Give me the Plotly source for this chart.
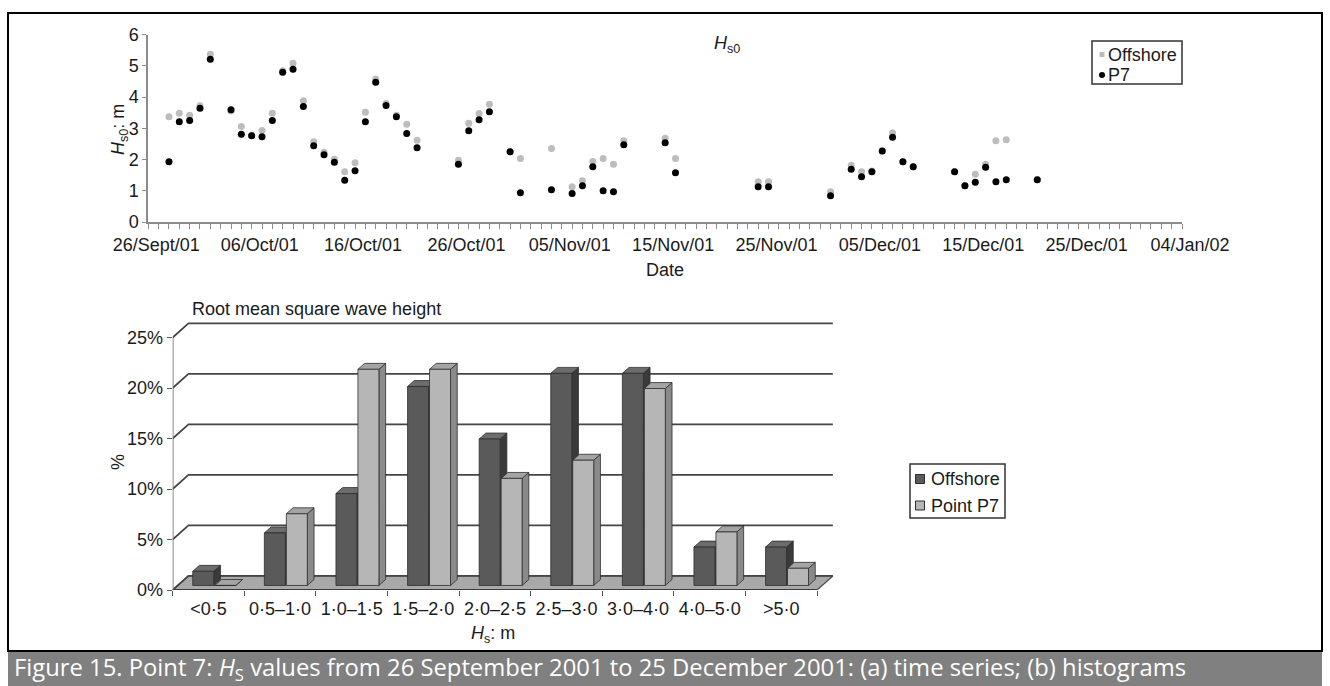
import plotly.graph_objects as go

W, H = 1330, 686

# ---------------- data: (a) time series ----------------
obs_dates = [
    "2001-09-28", "2001-09-29", "2001-09-30", "2001-10-01", "2001-10-02",
    "2001-10-04", "2001-10-05", "2001-10-06", "2001-10-07", "2001-10-08", "2001-10-09", "2001-10-10",
    "2001-10-11", "2001-10-12", "2001-10-13", "2001-10-14", "2001-10-15", "2001-10-16", "2001-10-17",
    "2001-10-18", "2001-10-19", "2001-10-20", "2001-10-21", "2001-10-22",
    "2001-10-26", "2001-10-27", "2001-10-28", "2001-10-29", "2001-10-31", "2001-11-01",
    "2001-11-04", "2001-11-06", "2001-11-07", "2001-11-08", "2001-11-09", "2001-11-10", "2001-11-11",
    "2001-11-15", "2001-11-16", "2001-11-24", "2001-11-25",
    "2001-12-01", "2001-12-03", "2001-12-04", "2001-12-05", "2001-12-06", "2001-12-07", "2001-12-08", "2001-12-09",
    "2001-12-13", "2001-12-14", "2001-12-15", "2001-12-16", "2001-12-17", "2001-12-18", "2001-12-21",
]
offshore_hs = [
    3.37, 3.48, 3.42, 3.72, 5.37,
    3.55, 3.06, 2.78, 2.93, 3.48, 4.84, 5.08,
    3.88, 2.57, 2.23, 2.01, 1.61, 1.90, 3.51,
    4.58, 3.79, 3.42, 3.13, 2.62,
    1.98, 3.16, 3.47, 3.77, 2.25, 2.03,
    2.35, 1.13, 1.32, 1.94, 2.03, 1.85, 2.60,
    2.68, 2.03, 1.29, 1.29,
    0.97, 1.82, 1.61, 1.63, 2.27, 2.86, 1.93, 1.77,
    1.61, 1.16, 1.53, 1.85, 2.60, 2.63, 1.35,
]
p7_hs = [
    1.93, 3.21, 3.25, 3.64, 5.21,
    3.59, 2.81, 2.76, 2.73, 3.25, 4.79, 4.89,
    3.70, 2.44, 2.15, 1.91, 1.34, 1.64, 3.21,
    4.47, 3.73, 3.37, 2.83, 2.38,
    1.85, 2.92, 3.27, 3.53, 2.25, 0.94,
    1.03, 0.91, 1.16, 1.77, 1.00, 0.97, 2.47,
    2.54, 1.58, 1.13, 1.13,
    0.84, 1.69, 1.45, 1.61, 2.27, 2.71, 1.93, 1.77,
    1.61, 1.16, 1.27, 1.75, 1.29, 1.35, 1.35,
]
date_tick_vals = ["2001-09-26", "2001-10-06", "2001-10-16", "2001-10-26", "2001-11-05", "2001-11-15",
                  "2001-11-25", "2001-12-05", "2001-12-15", "2001-12-25", "2002-01-04"]
date_tick_text = ["26/Sept/01", "06/Oct/01", "16/Oct/01", "26/Oct/01", "05/Nov/01", "15/Nov/01",
                  "25/Nov/01", "05/Dec/01", "15/Dec/01", "25/Dec/01", "04/Jan/02"]
date_range = ["2001-09-26", "2002-01-04"]
hs_ticks = [0, 1, 2, 3, 4, 5, 6]
ts_series = ["Offshore", "P7"]

# ---------------- data: (b) histograms ----------------
hs_bins = ["<0·5", "0·5–1·0", "1·0–1·5", "1·5–2·0", "2·0–2·5", "2·5–3·0", "3·0–4·0", "4·0–5·0", ">5·0"]
offshore_pct = [1.4, 5.2, 9.1, 19.7, 14.5, 21.0, 21.0, 3.8, 3.8]
p7_pct = [0.0, 7.1, 21.4, 21.4, 10.6, 12.4, 19.5, 5.3, 1.7]
pct_ticks = [0, 5, 10, 15, 20, 25]
hist_series = ["Offshore", "Point P7"]

# ---------------- layout geometry (pixels) ----------------
FONT = "Liberation Sans, Arial, sans-serif"
TXT = "#1a1a1a"
AX = "#8c8c8c"
GRAY_DOT = "#bdbdbd"


def px(x):
    return x / W


def py(y):
    return 1 - y / H


# top plot area
T_L, T_R, T_T, T_B = 148.3, 1182.0, 34.5, 222.0
# bottom plot area (front plane)
B_L, B_R, B_T, B_B = 172.7, 845.0, 300.0, 590.0
CAT_PX = 71.6      # px per category
PCT_PX = 10.1      # px per percent
n = len(hs_bins)
x_max = -0.5 + (B_R - B_L) / CAT_PX
y_max = (B_B - B_T) / PCT_PX

# pseudo-3D offsets (in data units)
DEPTH_X, DEPTH_Y = 0.22, 1.39     # full depth of floor / back wall
BX, BY = 0.08, 0.45               # plane in which bars stand
BW, GAP = 0.293, 0.007            # bar width, half gap
DDX, DDY = 0.094, 0.59            # bar depth

fig = go.Figure()

# ---- top: scatter ----
fig.add_trace(go.Scatter(x=obs_dates, y=offshore_hs, mode="markers", name=ts_series[0],
                         marker=dict(color=GRAY_DOT, size=7), xaxis="x", yaxis="y",
                         showlegend=False))
fig.add_trace(go.Scatter(x=obs_dates, y=p7_hs, mode="markers", name=ts_series[1],
                         marker=dict(color="#000000", size=7), xaxis="x", yaxis="y",
                         showlegend=False))

# ---- bottom: floor, walls ----
right = n - 0.5
floor_x = [-0.5, right, right + DEPTH_X, -0.5 + DEPTH_X, -0.5]
floor_y = [0, 0, DEPTH_Y, DEPTH_Y, 0]
fig.add_trace(go.Scatter(x=floor_x, y=floor_y, mode="lines", fill="toself",
                         fillcolor="#a9a9a9", line=dict(color="#4a4a4a", width=1.2),
                         xaxis="x2", yaxis="y2", showlegend=False, hoverinfo="skip"))
gx, gy = [], []
for t in pct_ticks:
    gx += [-0.5, -0.5 + DEPTH_X, right + DEPTH_X, None]
    gy += [t, t + DEPTH_Y, t + DEPTH_Y, None]
fig.add_trace(go.Scatter(x=gx, y=gy, mode="lines", line=dict(color="#454545", width=1.7),
                         xaxis="x2", yaxis="y2", showlegend=False, hoverinfo="skip"))
fig.add_trace(go.Scatter(x=[-0.5, -0.5], y=[0, pct_ticks[-1]], mode="lines",
                         line=dict(color="#6e6e6e", width=1.6),
                         xaxis="x2", yaxis="y2", showlegend=False, hoverinfo="skip"))
fig.add_trace(go.Scatter(x=[-0.5, right], y=[0, 0], mode="lines",
                         line=dict(color="#3c3c3c", width=2),
                         xaxis="x2", yaxis="y2", showlegend=False, hoverinfo="skip"))


def bar_faces(values, left_side):
    fx, fy, sx, sy, tx, ty = [], [], [], [], [], []
    for i, v in enumerate(values):
        if left_side:
            x0, x1 = i + BX - GAP - BW, i + BX - GAP
        else:
            x0, x1 = i + BX + GAP, i + BX + GAP + BW
        y0, y1 = BY, BY + v
        fx += [x0, x1, x1, x0, x0, None]
        fy += [y0, y0, y1, y1, y0, None]
        sx += [x1, x1 + DDX, x1 + DDX, x1, x1, None]
        sy += [y0, y0 + DDY, y1 + DDY, y1, y0, None]
        tx += [x0, x1, x1 + DDX, x0 + DDX, x0, None]
        ty += [y1, y1, y1 + DDY, y1 + DDY, y1, None]
    return (fx, fy), (sx, sy), (tx, ty)


BAR_COLORS = [("#5a5a5a", "#3a3a3a", "#6c6c6c"), ("#b6b6b6", "#8a8a8a", "#a4a4a4")]
for name, vals, left, (c_front, c_side, c_top) in zip(hist_series, [offshore_pct, p7_pct],
                                                      [True, False], BAR_COLORS):
    front, side, top = bar_faces(vals, left)
    for (xs, ys), col in ((side, c_side), (top, c_top), (front, c_front)):
        fig.add_trace(go.Scatter(x=xs, y=ys, mode="lines", fill="toself", fillcolor=col,
                                 line=dict(color="#2e2e2e", width=0.8), xaxis="x2", yaxis="y2",
                                 name=name, showlegend=False, hoverinfo="skip"))

tickfont = dict(family=FONT, size=18, color=TXT)

fig.update_layout(
    width=W, height=H,
    margin=dict(l=0, r=0, t=0, b=0),
    paper_bgcolor="white", plot_bgcolor="rgba(0,0,0,0)",
    font=dict(family=FONT, size=18, color=TXT),
    showlegend=False,
    xaxis=dict(domain=[px(T_L), px(T_R)], anchor="y", type="date", range=date_range,
               tickmode="array", tickvals=date_tick_vals, ticktext=date_tick_text,
               ticks="outside", ticklen=5, tickcolor=AX, tickwidth=1.2,
               showline=True, linecolor=AX, linewidth=2, showgrid=False, zeroline=False,
               tickfont=tickfont, ticklabelshift=8, automargin=False,
               minor=dict(tickmode="linear", tick0="2001-09-26", dtick=86400000,
                          ticks="outside", ticklen=5, tickcolor=AX, tickwidth=1.2, showgrid=False)),
    yaxis=dict(domain=[py(T_B), py(T_T)], anchor="x", range=[0, 6],
               tickmode="array", tickvals=hs_ticks,
               ticks="outside", ticklen=4, tickcolor=AX, tickwidth=1.2,
               showline=True, linecolor=AX, linewidth=2, showgrid=False, zeroline=False,
               tickfont=tickfont, automargin=False),
    xaxis2=dict(domain=[px(B_L), px(B_R)], anchor="y2", range=[-0.5, x_max],
                tickmode="array", tickvals=list(range(n)), ticktext=hs_bins, ticks="",
                ticklabelstandoff=6,
                showline=False, showgrid=False, zeroline=False, tickfont=tickfont, automargin=False,
                minor=dict(tickmode="array", tickvals=[i - 0.5 for i in range(n + 1)],
                           ticks="outside", ticklen=5, tickcolor="#555555", tickwidth=1.2,
                           showgrid=False)),
    yaxis2=dict(domain=[py(B_B), py(B_T)], anchor="x2", range=[0, y_max],
                tickmode="array", tickvals=pct_ticks, ticktext=[f"{t}%" for t in pct_ticks],
                ticks="outside", ticklen=5, tickcolor="#555555", tickwidth=1.2,
                showline=False, showgrid=False, zeroline=False, tickfont=tickfont, automargin=False),
)

ann = [
    dict(text="Date", x=px(665), y=py(270)),
    dict(text="<i>H</i><sub>s0</sub>: m", x=px(120), y=py(130), textangle=-90),
    dict(text="<i>H</i><sub>s0</sub>", x=px(727), y=py(45)),
    dict(text="Root mean square wave height", x=px(190), y=py(309), xanchor="left"),
    dict(text="%", x=px(118), y=py(462), textangle=-90),
    dict(text="<i>H</i><sub>s</sub>: m", x=px(493), y=py(634)),
    # legend texts
    dict(text=ts_series[0], x=px(1106), y=py(55.5), xanchor="left"),
    dict(text=ts_series[1], x=px(1106), y=py(75.5), xanchor="left"),
    dict(text=hist_series[0], x=px(929), y=py(479), xanchor="left"),
    dict(text=hist_series[1], x=px(929), y=py(505.5), xanchor="left"),
]
for a in ann:
    a.setdefault("xanchor", "center")
    fig.add_annotation(xref="paper", yref="paper", yanchor="middle", showarrow=False,
                       font=dict(family=FONT, size=18, color=TXT), **a)


def box(x0, y0, x1, y1, **kw):
    fig.add_shape(type="rect", xref="paper", yref="paper",
                  x0=px(x0), x1=px(x1), y0=py(y1), y1=py(y0), **kw)


# legend boxes and symbols
box(1092, 41, 1182, 84, line=dict(color="#333333", width=1.5), fillcolor="white")
box(1099.5, 52, 1104.5, 57, line=dict(width=0), fillcolor=GRAY_DOT)
fig.add_shape(type="circle", xref="paper", yref="paper", x0=px(1099), x1=px(1105),
              y0=py(78), y1=py(72), line=dict(width=0), fillcolor="#000000")
box(910, 464, 1005, 518, line=dict(color="#333333", width=1.5), fillcolor="white")
box(915.5, 474.5, 924.5, 483.5, line=dict(color="#2e2e2e", width=1), fillcolor=BAR_COLORS[0][0])
box(915.5, 501, 924.5, 510, line=dict(color="#2e2e2e", width=1), fillcolor=BAR_COLORS[1][0])

# frame and caption band
box(8, 651, 1322, 686, fillcolor="#808080", line=dict(width=0), layer="below")
box(8, 13, 1322, 651, line=dict(color="#000000", width=2), fillcolor="rgba(0,0,0,0)")
fig.add_annotation(xref="paper", yref="paper", x=px(12), y=py(668), xanchor="left", yanchor="middle",
                   showarrow=False,
                   text="Figure 15. Point 7: <i>H</i><sub>S</sub> values from 26 September 2001 to 25 December 2001: (a) time series; (b) histograms",
                   font=dict(family="Open Sans, sans-serif", size=23.8, color="white"))

fig.write_html("out.html")
